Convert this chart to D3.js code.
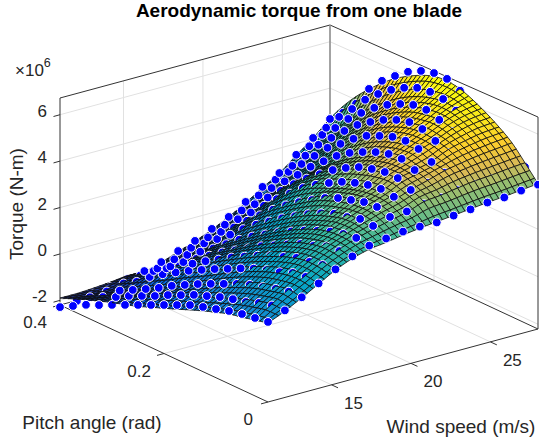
<!DOCTYPE html>
<html>
<head>
<meta charset="utf-8">
<script src="https://cdn.jsdelivr.net/npm/d3@7/dist/d3.min.js"></script>
<style>
  html, body { margin: 0; padding: 0; background: #fff; }
  text { font-family: "Liberation Sans", Arial, sans-serif; fill: #262626; }
</style>
</head>
<body>
<svg id="chart" width="539" height="443"></svg>
<script>
const windSpeeds = [11, 12.0625, 13.125, 14.1875, 15.25, 16.3125, 17.375, 18.4375, 19.5, 20.5625, 21.625, 22.6875, 23.75, 24.8125, 25.875, 26.9375, 28];
const pitchAngles = [0, 0.025, 0.05, 0.075, 0.1, 0.125, 0.15, 0.175, 0.2, 0.225, 0.25, 0.275, 0.3, 0.325, 0.35, 0.375, 0.4];

const windTicks = [15, 20, 25];
const pitchTicks = [0, 0.2, 0.4];
const torqueTicks = [-2, 0, 2, 4, 6];

// blue dots, one row per wind speed, one value per pitch angle (x 1e6 N-m)
const torquePoints = [
  [1.25, 1.16, 1.07, 0.94, 0.76, 0.59, 0.41, 0.15, -0.11, -0.37, -0.63, -0.89, -1.15, -1.42, -1.67, -1.98, -2.29],
  [1.55, 1.50, 1.35, 1.13, 0.99, 0.82, 0.60, 0.39, 0.12, -0.14, -0.44, -0.70, -0.96, -1.27, -1.53, -1.80, -2.22],
  [1.92, 1.90, 1.76, 1.58, 1.41, 1.19, 0.93, 0.67, 0.40, 0.10, -0.20, -0.55, -0.86, -1.16, -1.45, -1.75, -2.12],
  [2.32, 2.34, 2.25, 2.02, 1.85, 1.65, 1.40, 1.12, 0.85, 0.55, 0.25, -0.08, -0.42, -0.80, -1.27, -1.60, -2.01],
  [2.73, 2.66, 2.53, 2.44, 2.22, 2.00, 1.75, 1.45, 1.15, 0.80, 0.47, 0.10, -0.27, -0.62, -1.00, -1.45, -1.87],
  [3.09, 3.06, 3.00, 2.76, 2.58, 2.30, 2.00, 1.70, 1.35, 1.00, 0.65, 0.25, -0.15, -0.55, -1.00, -1.35, -1.72],
  [3.36, 3.43, 3.34, 3.18, 2.95, 2.70, 2.40, 2.10, 1.75, 1.40, 1.00, 0.55, 0.10, -0.30, -0.70, -1.15, -1.53],
  [3.47, 3.75, 3.79, 3.61, 3.49, 3.25, 2.95, 2.60, 2.25, 1.85, 1.45, 1.00, 0.50, 0.05, -0.40, -0.85, -1.25],
  [3.57, 3.94, 4.11, 4.06, 3.89, 3.71, 3.45, 3.10, 2.75, 2.35, 1.90, 1.40, 0.90, 0.35, -0.10, -0.60, -1.01],
  [3.59, 3.98, 4.35, 4.43, 4.34, 4.17, 3.95, 3.64, 3.30, 2.90, 2.40, 1.90, 1.35, 0.80, 0.25, -0.25, -0.69],
  [3.57, 4.10, 4.45, 4.70, 4.70, 4.57, 4.39, 4.09, 3.74, 3.30, 2.85, 2.35, 1.80, 1.25, 0.70, 0.17, -0.37],
  [3.67, 4.17, 4.55, 4.85, 5.07, 5.02, 4.84, 4.58, 4.28, 3.89, 3.40, 2.90, 2.29, 1.75, 1.20, 0.62, 0.08],
  [3.74, 4.30, 4.79, 5.00, 5.30, 5.39, 5.30, 5.08, 4.82, 4.43, 3.95, 3.52, 2.91, 2.30, 1.70, 1.10, 0.53],
  [3.84, 4.35, 4.85, 5.20, 5.45, 5.70, 5.74, 5.57, 5.31, 4.96, 4.57, 4.05, 3.49, 2.93, 2.20, 1.50, 0.93],
  [3.86, 4.40, 4.90, 5.30, 5.65, 5.90, 6.07, 6.02, 5.80, 5.50, 5.11, 4.63, 4.11, 3.46, 2.90, 2.15, 1.52],
  [3.96, 4.46, 4.95, 5.40, 5.80, 6.10, 6.34, 6.39, 6.30, 6.04, 5.69, 5.25, 4.74, 4.08, 3.48, 2.75, 2.05],
  [4.02, 4.52, 4.95, 5.30, 5.65, 6.10, 6.50, 6.75, 6.74, 6.57, 6.27, 5.83, 5.36, 4.75, 3.85, 3.20, 2.67]
];

// fitted surface read at the same wind / pitch nodes
const torqueSurface = [
  [1.20, 1.07, 0.93, 0.81, 0.62, 0.42, 0.20, -0.03, -0.25, -0.47, -0.69, -0.88, -1.05, -1.25, -1.45, -1.68, -1.90],
  [1.52, 1.56, 1.42, 1.24, 1.02, 0.78, 0.54, 0.30, 0.06, -0.19, -0.46, -0.72, -0.98, -1.24, -1.48, -1.70, -1.90],
  [1.90, 2.00, 1.88, 1.74, 1.52, 1.26, 0.98, 0.66, 0.34, 0.04, -0.26, -0.58, -0.88, -1.17, -1.44, -1.68, -1.86],
  [2.30, 2.40, 2.38, 2.22, 2.00, 1.74, 1.44, 1.12, 0.78, 0.46, 0.14, -0.20, -0.52, -0.84, -1.18, -1.50, -1.80],
  [2.70, 2.80, 2.80, 2.66, 2.44, 2.18, 1.88, 1.56, 1.22, 0.86, 0.50, 0.14, -0.22, -0.60, -0.98, -1.36, -1.72],
  [3.00, 3.14, 3.16, 3.04, 2.84, 2.56, 2.24, 1.90, 1.52, 1.14, 0.76, 0.36, -0.04, -0.56, -1.02, -1.38, -1.74],
  [3.20, 3.40, 3.46, 3.40, 3.20, 2.94, 2.62, 2.26, 1.88, 1.48, 1.06, 0.64, 0.20, -0.28, -0.72, -1.16, -1.54],
  [3.30, 3.60, 3.74, 3.72, 3.56, 3.36, 3.08, 2.74, 2.36, 1.96, 1.54, 1.06, 0.54, 0.04, -0.42, -0.86, -1.28],
  [3.42, 3.78, 4.00, 4.02, 3.94, 3.76, 3.54, 3.22, 2.86, 2.46, 2.02, 1.52, 0.98, 0.42, -0.10, -0.58, -1.02],
  [3.52, 3.94, 4.20, 4.28, 4.22, 4.06, 3.84, 3.60, 3.36, 2.98, 2.52, 1.98, 1.42, 0.84, 0.24, -0.26, -0.72],
  [3.60, 4.20, 4.46, 4.66, 4.64, 4.50, 4.30, 4.02, 3.70, 3.36, 2.92, 2.42, 1.86, 1.28, 0.70, 0.14, -0.36],
  [3.68, 4.28, 4.66, 4.84, 4.92, 4.84, 4.64, 4.36, 4.02, 3.62, 3.16, 2.66, 2.12, 1.56, 1.00, 0.46, 0.04],
  [3.76, 4.40, 4.88, 5.02, 5.22, 5.20, 5.06, 4.82, 4.50, 4.10, 3.64, 3.14, 2.60, 2.02, 1.44, 0.92, 0.50],
  [3.84, 4.50, 5.02, 5.34, 5.48, 5.54, 5.46, 5.26, 4.98, 4.60, 4.16, 3.66, 3.10, 2.52, 1.92, 1.38, 0.92],
  [3.90, 4.56, 5.14, 5.52, 5.78, 5.90, 5.84, 5.70, 5.44, 5.10, 4.68, 4.20, 3.66, 3.08, 2.46, 1.92, 1.50],
  [3.98, 4.64, 5.22, 5.66, 5.98, 6.18, 6.24, 6.12, 5.92, 5.62, 5.24, 4.78, 4.26, 3.68, 3.06, 2.46, 2.05],
  [4.06, 4.70, 5.30, 5.72, 6.07, 6.36, 6.58, 6.66, 6.60, 6.38, 6.08, 5.72, 5.26, 4.74, 4.16, 3.48, 2.70]
];

const parulaStops = ["#352a87", "#0363e1", "#1485d4", "#06a7c6", "#38b99e", "#92bf73", "#d9ba56", "#fcce2e", "#f9fb0e"];
const parulaTorque = [-2.3, -0.6, 0.9, 2.3, 3.3, 4.2, 4.75, 5.35, 6.5];

const windRange = [11, 28];
const pitchRange = [0, 0.4];
const torqueRange = [-2.2, 6.72];

const svg = d3.select("#chart");

// the 3D box is just three scales added together, no perspective
const windX = d3.scaleLinear().domain(windRange).range([0, 270]);
const windY = d3.scaleLinear().domain(windRange).range([0, -73]);
const pitchX = d3.scaleLinear().domain(pitchRange).range([0, -208]);
const pitchY = d3.scaleLinear().domain(pitchRange).range([0, -97]);
const torqueY = d3.scaleLinear().domain(torqueRange).range([0, -207]);

function project(w, p, t) {
  return [268 + windX(w) + pitchX(p), 402 + windY(w) + pitchY(p) + torqueY(t)];
}
// box lines: the right-hand edge of the reference box is a bit taller than the others
function projectBox(w, p, t) {
  const stretch = 1 + 0.024 * (w - 11) / 17 * (1 - p / 0.4);
  return [268 + windX(w) + pitchX(p), 402 + windY(w) + pitchY(p) + torqueY(t) * stretch];
}
function floorDepth(w, p) {
  return project(w, p, torqueRange[0])[1];
}

const colorScale = d3.scaleLinear().domain(parulaTorque).range(parulaStops).clamp(true);

const [w0, w1] = windRange, [p0, p1] = pitchRange, [t0, t1] = torqueRange;
const line = pts => "M" + pts.map(d => projectBox(d[0], d[1], d[2]).join(",")).join("L");

// grid on the back walls and the floor
const gridLines = [];
torqueTicks.forEach(t => {
  gridLines.push([[w0, p1, t], [w1, p1, t], [w1, p0, t]]);
});
windTicks.forEach(w => {
  gridLines.push([[w, p0, t0], [w, p1, t0], [w, p1, t1]]);
});
pitchTicks.filter(p => p > p0 && p < p1).forEach(p => {
  gridLines.push([[w0, p, t0], [w1, p, t0], [w1, p, t1]]);
});
svg.append("g").selectAll("path").data(gridLines).join("path")
  .attr("d", line).attr("fill", "none").attr("stroke", "#e1e1e1").attr("stroke-width", 1);

// box edges
const boxEdges = [
  [[w0, p1, t0], [w1, p1, t0]],
  [[w1, p1, t0], [w1, p0, t0]],
  [[w0, p1, t1], [w1, p1, t1]],
  [[w1, p1, t1], [w1, p0, t1]],
  [[w1, p0, t0], [w1, p0, t1]],
  [[w0, p1, t0], [w0, p1, t1]],
  [[w0, p0, t0], [w1, p0, t0]],
  [[w0, p0, t0], [w0, p1, t0]]
];
svg.append("g").selectAll("path").data(boxEdges).join("path")
  .attr("d", line).attr("fill", "none").attr("stroke", "#333").attr("stroke-width", 1);
svg.append("path").attr("d", line([[w1, p1, t0], [w1, p1, t1]]))
  .attr("fill", "none").attr("stroke", "#8c8c8c").attr("stroke-width", 1.6);

// ticks
const tickSeg = [];
torqueTicks.forEach(t => {
  const a = project(w0, p1, t);
  tickSeg.push([a, [a[0] - 6.5, a[1] + 1.8]]);
});
windTicks.forEach(w => {
  const a = project(w, p0, t0);
  tickSeg.push([a, [a[0] + 6.5, a[1] + 3]]);
});
pitchTicks.forEach(p => {
  const a = project(w0, p, t0);
  tickSeg.push([a, [a[0] - 7, a[1] + 1.9]]);
});
svg.append("g").selectAll("path").data(tickSeg).join("path")
  .attr("d", d => "M" + d.join("L")).attr("stroke", "#333").attr("stroke-width", 1);

// the mesh in the reference is about three times finer than the dots;
// each typed surface value stays a node, the lines between are just smoothed
function catmull(a, b, c, d, s) {
  return 0.5 * (2 * b + (c - a) * s + (2 * a - 5 * b + 4 * c - d) * s * s + (3 * b - a - 3 * c + d) * s * s * s);
}
const SUB = 3;
function refine(row) {
  const out = [];
  for (let k = 0; k < row.length - 1; k++) {
    const a = row[Math.max(k - 1, 0)], b = row[k], c = row[k + 1], d = row[Math.min(k + 2, row.length - 1)];
    for (let s = 0; s < SUB; s++) out.push(catmull(a, b, c, d, s / SUB));
  }
  out.push(row[row.length - 1]);
  return out;
}
const byPitch = torqueSurface.map(refine);
const meshT = d3.transpose(d3.transpose(byPitch).map(refine));
const meshW = refine(windSpeeds);
const meshP = refine(pitchAngles);

const items = [];
for (let i = 0; i < meshW.length - 1; i++) {
  for (let j = 0; j < meshP.length - 1; j++) {
    const c = [[i, j], [i + 1, j], [i + 1, j + 1], [i, j + 1]];
    const mean = d3.mean(c, q => meshT[q[0]][q[1]]);
    items.push({
      kind: "path",
      key: floorDepth((meshW[i] + meshW[i + 1]) / 2, (meshP[j] + meshP[j + 1]) / 2),
      d: "M" + c.map(q => project(meshW[q[0]], meshP[q[1]], meshT[q[0]][q[1]]).join(",")).join("L") + "Z",
      fill: colorScale(mean)
    });
  }
}

// dots under the fitted surface go into the painter's queue so the surface in front
// cuts them to a crescent, the rest go on top. The surface node is above the dot on
// screen by the gap, so the cut line has to be pushed back down by about that much.
// Where the surface faces the viewer (still rising with pitch) the same push moves
// the cut much further, so it gets a smaller factor.
const topDots = [];
windSpeeds.forEach((w, i) => pitchAngles.forEach((p, j) => {
  const gap = torquePoints[i][j] - torqueSurface[i][j];
  const dot = { kind: "circle", pos: project(w, p, torquePoints[i][j]) };
  if (gap >= -0.05) { topDots.push(dot); return; }
  const rising = j < 16 && torqueSurface[i][j + 1] - torqueSurface[i][j] > 0.1;
  const push = rising ? -gap * 5 - 2 : -gap * 14 - 1;
  items.push(Object.assign(dot, { key: floorDepth(w, p) + push }));
}));
items.sort((a, b) => a.key - b.key);

const surfaceG = svg.append("g");
const drawn = surfaceG.selectAll("*").data(items).join(enter =>
  enter.append(d => document.createElementNS("http://www.w3.org/2000/svg", d.kind)));

drawn.filter(d => d.kind === "path")
  .attr("d", d => d.d)
  .attr("fill", d => d.fill)
  .attr("stroke", "#0c0c0c")
  .attr("stroke-width", 0.8);

function styleDots(sel) {
  sel.attr("cx", d => d.pos[0]).attr("cy", d => d.pos[1])
    .attr("r", 4.4)
    .attr("fill", "#0000ff")
    .attr("stroke", "#fff")
    .attr("stroke-width", 1);
}
styleDots(drawn.filter(d => d.kind === "circle"));
styleDots(svg.append("g").selectAll("circle").data(topDots).join("circle"));

// labels
const label = svg.append("g").attr("font-size", 17);
label.selectAll("text.z").data(torqueTicks).join("text")
  .attr("class", "z")
  .attr("x", 47)
  .attr("y", t => project(w0, p1, t)[1] + 2)
  .attr("text-anchor", "end")
  .text(t => t);
label.selectAll("text.p").data(pitchTicks).join("text")
  .attr("class", "p")
  .attr("x", p => project(w0, p, t0)[0] - (p === 0 ? 15 : 13))
  .attr("y", p => project(w0, p, t0)[1] + 23)
  .attr("text-anchor", "end")
  .text(p => p);
label.selectAll("text.w").data(windTicks).join("text")
  .attr("class", "w")
  .attr("x", w => project(w, p0, t0)[0] + 22)
  .attr("y", w => project(w, p0, t0)[1] + 24)
  .attr("text-anchor", "middle")
  .text(w => w);

const exp = svg.append("text").attr("x", 15).attr("y", 76).attr("font-size", 17);
exp.append("tspan").text("×10");
exp.append("tspan").attr("font-size", 12.5).attr("dy", -9).text("6");

svg.append("text").attr("x", 92).attr("y", 429).attr("font-size", 19)
  .attr("text-anchor", "middle").text("Pitch angle (rad)");
svg.append("text").attr("x", 461).attr("y", 433).attr("font-size", 19)
  .attr("text-anchor", "middle").text("Wind speed (m/s)");
svg.append("text").attr("transform", "translate(23,204) rotate(-90)").attr("font-size", 19)
  .attr("text-anchor", "middle").text("Torque (N-m)");
svg.append("text").attr("x", 299).attr("y", 17).attr("font-size", 19)
  .attr("font-weight", "bold").attr("text-anchor", "middle").style("fill", "#000")
  .text("Aerodynamic torque from one blade");
</script>
</body>
</html>
